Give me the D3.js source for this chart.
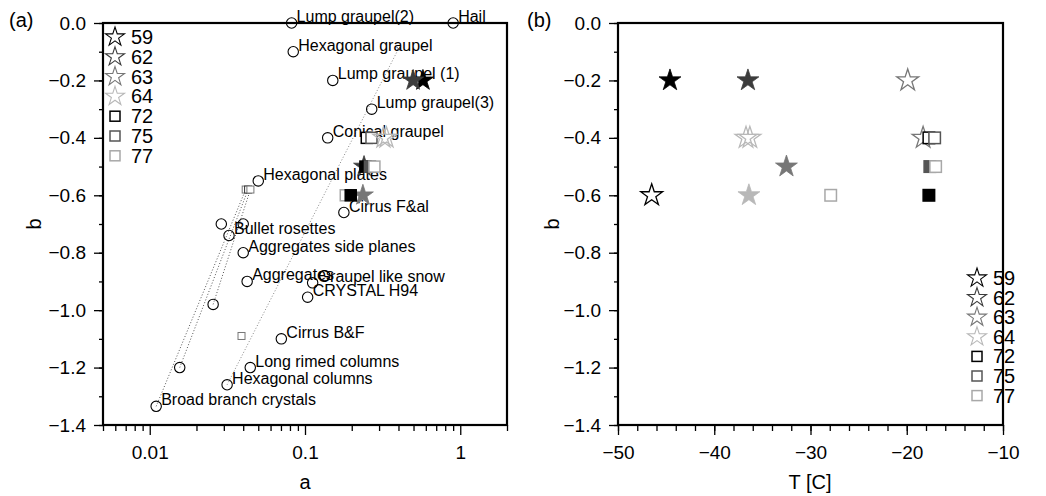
<!DOCTYPE html>
<html><head><meta charset="utf-8">
<script src="https://cdn.jsdelivr.net/npm/d3@7"></script>
<style>body{margin:0;background:#fff;} svg{display:block;font-family:"Liberation Sans",Arial,sans-serif;}</style>
</head><body><svg id="c" width="1046" height="496"></svg>
<script>
// ---------- data ----------
const crystalNames = ["Lump graupel(2)","Hail","Hexagonal graupel","Lump graupel (1)","Lump graupel(3)","Conical graupel","Hexagonal plates","Cirrus F&al","","","Bullet rosettes","Aggregates side planes","Aggregates","Graupel like snow","","CRYSTAL H94","","Cirrus B&F","","Long rimed columns","Hexagonal columns","Broad branch crystals"];
const crystalA = [0.082,0.90,0.084,0.151,0.269,0.140,0.050,0.178,0.0289,0.040,0.0324,0.040,0.0424,0.112,0.134,0.104,0.0256,0.0704,0.0156,0.0444,0.0315,0.011];
const crystalB = [0,0,-0.10,-0.20,-0.30,-0.40,-0.55,-0.66,-0.70,-0.70,-0.74,-0.80,-0.90,-0.905,-0.88,-0.955,-0.98,-1.10,-1.20,-1.20,-1.26,-1.335];

// dotted relation lines (a0,b0) -> (a1,b1)
const lineA0 = [0.0315,0.011,0.0156,0.0256];
const lineB0 = [-1.26,-1.335,-1.20,-0.98];
const lineA1 = [0.40,0.0415,0.0430,0.0445];
const lineB1 = [-0.09,-0.58,-0.58,-0.58];
const smallSquareA = [0.0415,0.0430,0.0445,0.039];
const smallSquareB = [-0.58,-0.58,-0.58,-1.09];

const seriesNames = ["59","62","63","64","72","75","77"];
const seriesShapes = ["star","star","star","star","square","square","square"];

// panel (a) measured markers
const markA = [0.575,0.497,0.25,0.268,0.32,0.335,0.24,0.245,0.262,0.28,0.236,0.183,0.197];
const markB = [-0.2,-0.2,-0.4,-0.4,-0.4,-0.4,-0.5,-0.5,-0.5,-0.5,-0.6,-0.6,-0.6];
const markSeries = ["59","62","72","75","64","64","62","72","75","77","63","77","72"];
const markFilled = [true,true,false,false,false,false,true,true,true,false,true,false,true];

// panel (b) markers
const tempT = [-44.6,-46.5,-36.5,-32.5,-36.7,-36.3,-36.4,-19.9,-18.3,-17.7,-17.1,-17.6,-17.0,-17.7,-27.9];
const tempB = [-0.2,-0.6,-0.2,-0.5,-0.4,-0.4,-0.6,-0.2,-0.4,-0.4,-0.4,-0.5,-0.5,-0.6,-0.6];
const tempSeries = ["59","59","62","63","64","64","64","63","63","72","75","75","77","72","77"];
const tempFilled = [true,false,true,true,false,false,true,false,false,false,false,true,false,true,false];

const bTicks = [0,-0.2,-0.4,-0.6,-0.8,-1.0,-1.2,-1.4];
const aTicks = [0.01,0.1,1];
const aTickLabels = ["0.01","0.1","1"];
const tTicks = [-50,-40,-30,-20,-10];

// ---------- style ----------
const seriesColor = {"59":"#000000","62":"#3c3c3c","63":"#777777","64":"#b8b8b8","72":"#000000","75":"#555555","77":"#a8a8a8"};
const fmt = v => (v<0?"\u2212":"") + Math.abs(v).toFixed(1);
const fmtT = v => (v<0?"\u2212":"") + Math.abs(v);

const svg = d3.select("#c");
const y = d3.scaleLinear().domain([0,-1.4]).range([23,425]);
const xa = d3.scaleLog().domain([0.005,2]).range([103,507]);
const xt = d3.scaleLinear().domain([-50,-10]).range([618,1003]);

function starPath(r){ return d3.symbol(d3.symbolStar, r*r/0.8908130915)(); }
function drawMarker(g, shape, cx, cy, color, filled, r, sw){
  if(shape==="star"){
    g.append("path").attr("d", starPath(r)).attr("transform",`translate(${cx},${cy})`)
      .attr("fill", filled?color:"none").attr("stroke", color).attr("stroke-width", filled?0.8:(sw||1.3))
      .attr("stroke-linejoin","miter");
  } else {
    const s = r;
    g.append("rect").attr("x",cx-s/2).attr("y",cy-s/2).attr("width",s).attr("height",s)
      .attr("fill", filled?color:"#fff").attr("stroke", color).attr("stroke-width",1.5);
  }
}

function yAxes(x0){
  const major = d3.axisLeft(y).tickValues(bTicks).tickSize(9).tickPadding(8).tickFormat(fmt);
  const minor = d3.axisLeft(y).tickValues(d3.range(0,15).map(i=>-i/10)).tickSize(4).tickFormat("");
  const g1 = svg.append("g").attr("transform",`translate(${x0},0)`).call(major);
  const g2 = svg.append("g").attr("transform",`translate(${x0},0)`).call(minor);
  [g1,g2].forEach(g=>{ g.select(".domain").remove(); g.selectAll("line").attr("stroke","#000").attr("stroke-width",1.3);});
  g1.selectAll("text").attr("font-size",19).attr("fill","#000");
}

// ---------- panel (a) ----------
yAxes(103);
{
  const major = d3.axisBottom(xa).tickValues(aTicks).tickSize(10).tickPadding(11).tickFormat((d,i)=>aTickLabels[i]);
  const minorVals = [];
  [0.001,0.01,0.1,1].forEach(dec=>{ for(let k=2;k<=9;k++){ const v=dec*k; if(v>=0.005 && v<=2.0001) minorVals.push(v);} });
  const minor = d3.axisBottom(xa).tickValues(minorVals).tickSize(6).tickFormat("");
  const g1 = svg.append("g").attr("transform","translate(0,425)").call(major);
  const g2 = svg.append("g").attr("transform","translate(0,425)").call(minor);
  [g1,g2].forEach(g=>{ g.select(".domain").remove(); g.selectAll("line").attr("stroke","#000").attr("stroke-width",1.3);});
  g1.selectAll("text").attr("font-size",19).attr("fill","#000");
}
svg.append("rect").attr("x",103).attr("y",23).attr("width",404).attr("height",402).attr("fill","none").attr("stroke","#000").attr("stroke-width",2.2);

const ga = svg.append("g");
// dotted lines
lineA0.forEach((a0,i)=>{
  ga.append("line").attr("x1",xa(a0)).attr("y1",y(lineB0[i])).attr("x2",xa(lineA1[i])).attr("y2",y(lineB1[i]))
    .attr("stroke", i===0?"#888":"#555").attr("stroke-width",1).attr("stroke-dasharray","1,2");
});
smallSquareA.forEach((a,i)=>{
  ga.append("rect").attr("x",xa(a)-3.5).attr("y",y(smallSquareB[i])-3.5).attr("width",7).attr("height",7)
    .attr("fill","#fff").attr("stroke", i===1?"#333":"#777").attr("stroke-width",1);
});
ga.append("path").attr("d","M-2,-2L2,2M-2,2L2,-2").attr("transform",`translate(${xa(lineA1[0])},${y(lineB1[0])})`).attr("stroke","#555");
// crystal circles + labels
crystalA.forEach((a,i)=>{
  ga.append("circle").attr("cx",xa(a)).attr("cy",y(crystalB[i])).attr("r",5.2).attr("fill","none").attr("stroke","#000").attr("stroke-width",1.1);
});
crystalA.forEach((a,i)=>{
  if(!crystalNames[i]) return;
  ga.append("text").attr("x",xa(a)+5).attr("y",y(crystalB[i])-1).attr("font-size",16).attr("fill","#000").text(crystalNames[i]);
});
// measured markers
markA.forEach((a,i)=>{
  const si = seriesNames.indexOf(markSeries[i]);
  drawMarker(ga, seriesShapes[si], xa(a), y(markB[i]), seriesColor[markSeries[i]], markFilled[i], 11);
});
// legend (a)
seriesNames.forEach((n,i)=>{
  const cy = 37 + i*19.8;
  drawMarker(svg, seriesShapes[i], 115, cy, seriesColor[n], false, 10, 1.1);
  svg.append("text").attr("x",131).attr("y",cy+7).attr("font-size",20).attr("fill","#000").text(n);
});
svg.append("text").attr("x",305).attr("y",489).attr("text-anchor","middle").attr("font-size",20).text("a");
svg.append("text").attr("transform","translate(41,224) rotate(-90)").attr("text-anchor","middle").attr("font-size",20).text("b");
svg.append("text").attr("x",9).attr("y",27).attr("font-size",20).text("(a)");

// ---------- panel (b) ----------
yAxes(618);
{
  const major = d3.axisBottom(xt).tickValues(tTicks).tickSize(10).tickPadding(11).tickFormat(fmtT);
  const minor = d3.axisBottom(xt).tickValues(d3.range(-50,-9,2)).tickSize(6).tickFormat("");
  const g1 = svg.append("g").attr("transform","translate(0,425)").call(major);
  const g2 = svg.append("g").attr("transform","translate(0,425)").call(minor);
  [g1,g2].forEach(g=>{ g.select(".domain").remove(); g.selectAll("line").attr("stroke","#000").attr("stroke-width",1.3);});
  g1.selectAll("text").attr("font-size",19).attr("fill","#000");
}
svg.append("rect").attr("x",618).attr("y",23).attr("width",385).attr("height",402).attr("fill","none").attr("stroke","#000").attr("stroke-width",2.2);
const gb = svg.append("g");
tempT.forEach((t,i)=>{
  const si = seriesNames.indexOf(tempSeries[i]);
  drawMarker(gb, seriesShapes[si], xt(t), y(tempB[i]), seriesColor[tempSeries[i]], tempFilled[i], 11.5);
});
seriesNames.forEach((n,i)=>{
  const cy = 278 + i*19.6;
  drawMarker(svg, seriesShapes[i], 977, cy, seriesColor[n], false, 10, 1.1);
  svg.append("text").attr("x",993).attr("y",cy+7).attr("font-size",20).attr("fill","#000").text(n);
});
svg.append("text").attr("x",810).attr("y",489).attr("text-anchor","middle").attr("font-size",20).text("T [C]");
svg.append("text").attr("transform","translate(559,224) rotate(-90)").attr("text-anchor","middle").attr("font-size",20).text("b");
svg.append("text").attr("x",527).attr("y",27).attr("font-size",20).text("(b)");
</script></body></html>
